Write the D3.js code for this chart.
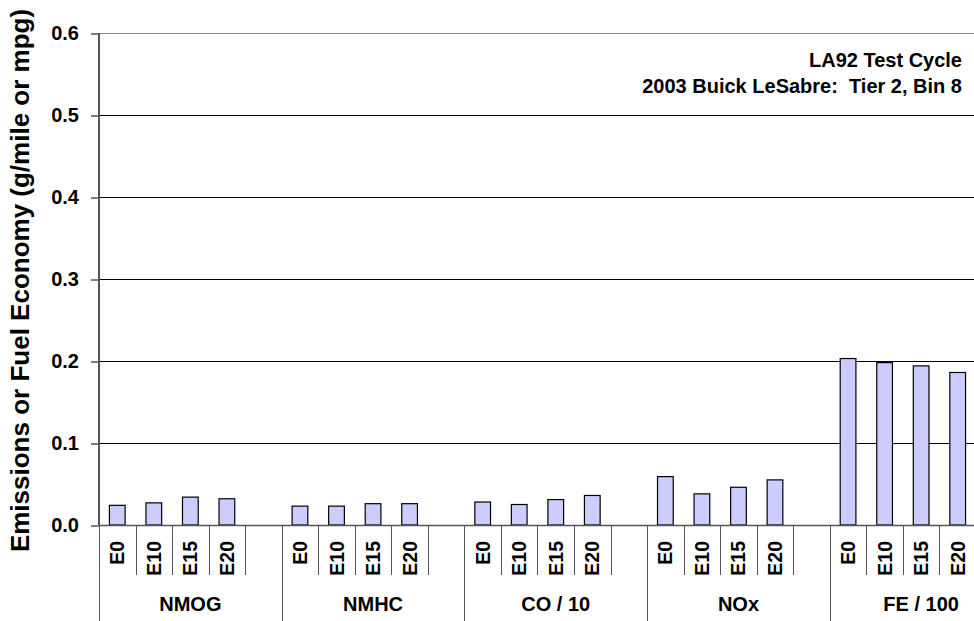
<!DOCTYPE html>
<html>
<head>
<meta charset="utf-8">
<script src="https://cdn.jsdelivr.net/npm/d3@7"></script>
<style>
  html, body { margin: 0; padding: 0; background: #fff; }
  svg { display: block; }
  text { font-family: "Liberation Sans", Arial, sans-serif; font-weight: bold; fill: #000; }
</style>
</head>
<body>
<svg id="chart" width="974" height="621"></svg>
<script>
const groups = ["NMOG", "NMHC", "CO / 10", "NOx", "FE / 100"];
const fuels = ["E0", "E10", "E15", "E20"];
const nmog = [0.024, 0.027, 0.034, 0.032];
const nmhc = [0.023, 0.023, 0.026, 0.026];
const co10 = [0.028, 0.025, 0.031, 0.036];
const nox = [0.059, 0.038, 0.046, 0.055];
const fe100 = [0.203, 0.198, 0.194, 0.186];
const yTicks = [0, 0.1, 0.2, 0.3, 0.4, 0.5, 0.6];
const yTitle = "Emissions or Fuel Economy (g/mile or mpg)";
const noteLines = ["LA92 Test Cycle", "2003 Buick LeSabre:  Tier 2, Bin 8"];

const seriesByGroup = [nmog, nmhc, co10, nox, fe100];
const slots = fuels.concat([""]); // Each group holds 4 fuels plus one empty slot

const svg = d3.select("#chart");
const mLeft = 99, mTop = 33, mBottom = 525, mRight = 1012.5;

const y = d3.scaleLinear().domain([0, 0.6]).range([mBottom, mTop]);
const xGroup = d3.scaleBand().domain(groups).range([mLeft, mRight]).padding(0);
const xSlot = d3.scaleBand().domain(slots.map((s, i) => i)).range([0, xGroup.bandwidth()]).padding(0);

// Gridlines
svg.append("g").selectAll("line").data(yTicks.filter(t => t > 0)).join("line")
  .attr("x1", mLeft).attr("x2", 974)
  .attr("y1", d => Math.round(y(d)) + 0.5).attr("y2", d => Math.round(y(d)) + 0.5)
  .attr("stroke", d => d === 0.6 ? "#888" : "#000").attr("stroke-width", 1);

// Y axis
const yAxis = d3.axisLeft(y).tickValues(yTicks).tickFormat(d3.format(".1f")).tickSize(8).tickPadding(12);
const yg = svg.append("g").attr("transform", `translate(${mLeft},0)`).call(yAxis);
yg.select(".domain").remove();
yg.selectAll(".tick line").attr("stroke", "#000").attr("transform", "translate(0,0.5)");
yg.selectAll(".tick text").style("font-size", "20px").style("font-weight", "bold")
  .style("font-family", "'Liberation Sans', Arial, sans-serif").attr("fill", "#000");
svg.append("line").attr("x1", mLeft).attr("x2", mLeft).attr("y1", mTop).attr("y2", mBottom)
  .attr("stroke", "#555").attr("stroke-width", 2);

// Bars
const flat = [];
groups.forEach((g, gi) => fuels.forEach((f, fi) => flat.push({ g, fi, f, v: seriesByGroup[gi][fi] })));
const bw = xSlot.bandwidth() * 0.43;
svg.append("g").selectAll("rect").data(flat).join("rect")
  .attr("x", d => xGroup(d.g) + xSlot(d.fi) + (xSlot.bandwidth() - bw) / 2)
  .attr("width", bw)
  .attr("y", d => y(d.v))
  .attr("height", d => y(0) - y(d.v))
  .attr("fill", "#ccccff").attr("stroke", "#000").attr("stroke-width", 1.2);

// X axis baseline
svg.append("line").attr("x1", mLeft).attr("x2", 974).attr("y1", mBottom + 0.5).attr("y2", mBottom + 0.5)
  .attr("stroke", "#555").attr("stroke-width", 1.5);

// Sub-category separators
const subTicks = [];
groups.forEach(g => { for (let i = 1; i < slots.length; i++) subTicks.push(xGroup(g) + xSlot(i)); });
svg.append("g").selectAll("line").data(subTicks).join("line")
  .attr("x1", d => Math.round(d) + 0.5).attr("x2", d => Math.round(d) + 0.5)
  .attr("y1", mBottom).attr("y2", 575)
  .attr("stroke", "#555").attr("stroke-width", 1);

// Group separators
const groupTicks = groups.map(g => xGroup(g)).concat([mRight]);
svg.append("g").selectAll("line").data(groupTicks).join("line")
  .attr("x1", d => Math.round(d) + 0.5).attr("x2", d => Math.round(d) + 0.5)
  .attr("y1", mBottom).attr("y2", 621)
  .attr("stroke", "#555").attr("stroke-width", 1);

// Fuel labels (rotated)
svg.append("g").selectAll("text").data(flat).join("text")
  .attr("transform", d => `translate(${xGroup(d.g) + xSlot(d.fi) + xSlot.bandwidth() / 2},541) rotate(-90)`)
  .attr("text-anchor", "end").attr("dy", "0.36em")
  .style("font-size", "19.5px")
  .text(d => d.f);

// Group labels
svg.append("g").selectAll("text").data(groups).join("text")
  .attr("x", g => xGroup(g) + xGroup.bandwidth() / 2).attr("y", 611)
  .attr("text-anchor", "middle").style("font-size", "20px")
  .text(g => g);

// Y title
svg.append("text").attr("transform", "translate(29,280.5) rotate(-90)")
  .attr("text-anchor", "middle").style("font-size", "26px").text(yTitle);

// Note
svg.append("g").selectAll("text").data(noteLines).join("text")
  .attr("x", 962).attr("y", (d, i) => 67 + i * 26)
  .attr("text-anchor", "end").style("font-size", "20px").style("white-space", "pre").text(d => d);
</script>
</body>
</html>
